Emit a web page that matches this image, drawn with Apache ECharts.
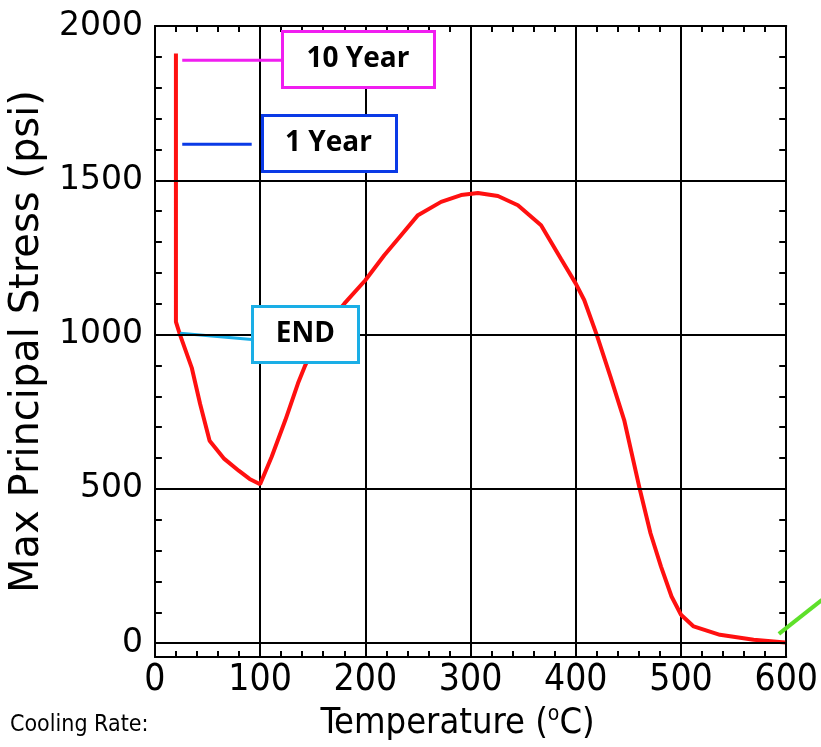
<!DOCTYPE html>
<html><head><meta charset="utf-8">
<script src="https://cdn.jsdelivr.net/npm/echarts@6/dist/echarts.min.js"></script>
<style>html,body{margin:0;padding:0;background:#fff}#c{width:821px;height:747px}</style>
</head><body><div id="c"></div>
<script>
// ---- data ----
const temps  = [20,20,24,35,43,52,66,80,90,100,111,124,136,143,152,165,180,200,218,234,250,272,291,307,326,345,367,386,400,408,420,433,446,461,471,481,491,500,512,537,569,599];
const stress = [1911,1041,998,893,775,656,597,558,532,515,604,723,842,901,965,1040,1100,1176,1257,1322,1387,1430,1452,1459,1449,1419,1354,1245,1165,1112,998,863,723,496,356,248,151,92,54,27,11,2];

const greenX = [593,634];
const greenY = [30,140];

const yLabelVals = [0,500,1000,1500,2000];
const yMinorVals = [0,100,200,300,400,500,600,700,800,900,1000,1100,1200,1300,1400,1500,1600,1700,1800,1900,2000];
const yGridVals = [0,500,1000,1500];

const boxLabels = ['10 Year','1 Year','END'];
const boxX = [193,165,143];
const boxY = [1893,1621,1002];
const boxColors = ['#f01ef0','#0a3ae6','#1aaee6'];
const boxW = [152,134,106];

const leadX = [[26,120],[26,92],[24,92]];
const leadY = [[1889,1889],[1617,1617],[1004,984]];

// ---- chart ----
const chart = echarts.init(document.getElementById('c'), null, {renderer:'canvas'});
const black = '#000';
const condensed = '"Liberation Sans Narrow","DejaVu Sans Condensed",sans-serif';

const series = [];
series.push({
  type:'line', data:[], silent:true, z:1,
  markLine:{silent:true, symbol:['none','none'], animation:false, label:{show:false},
    lineStyle:{color:black,width:2,type:'solid'},
    data: yGridVals.map(v=>({yAxis:v}))}
});
series.push({
  type:'line', data: temps.map((t,i)=>[t,stress[i]]), showSymbol:false, symbol:'none',
  lineStyle:{color:'#ff1010',width:4}, z:3, silent:true
});
leadX.forEach((xs,k)=>{
  series.push({type:'line', data: xs.map((x,i)=>[x,leadY[k][i]]), symbol:'none',
    lineStyle:{color:boxColors[k],width:3}, z:4, silent:true});
});

const axisLineS = {show:true, onZero:false, lineStyle:{color:black,width:2}};
const option = {
  animation:false,
  backgroundColor:'#fff',
  grid:{left:153, right:34, top:26, bottom:90, containLabel:false},
  xAxis:[{
    type:'value', min:0, max:600, interval:100, position:'bottom',
    axisLine:axisLineS,
    axisTick:{show:true, inside:true, length:6, lineStyle:{color:black,width:2}},
    minorTick:{show:true, splitNumber:5, length:6, lineStyle:{color:black,width:2}},
    axisLabel:{show:true, color:black, fontSize:37, fontFamily:condensed, margin:5},
    splitLine:{show:true, lineStyle:{color:black,width:2}},
    name:'{a|Temperature (}{s|o}{a|C)}', nameLocation:'middle', nameGap:20,
    nameTextStyle:{padding:[0,26,0,0], rich:{
      a:{fontSize:36, fontFamily:condensed, color:black, lineHeight:40},
      s:{fontSize:21, fontFamily:condensed, color:black, verticalAlign:'top', lineHeight:40}
    }}
  },{
    type:'value', min:0, max:600, interval:100, position:'top',
    axisLine:axisLineS,
    axisTick:{show:true, inside:true, length:6, lineStyle:{color:black,width:2}},
    minorTick:{show:true, splitNumber:5, length:6, lineStyle:{color:black,width:2}},
    axisLabel:{show:false}, splitLine:{show:false}
  }],
  yAxis:[{
    type:'value', min:-45, max:2000, position:'left',
    axisLine:axisLineS,
    axisTick:{show:true, inside:true, length:7, customValues:yMinorVals, lineStyle:{color:black,width:2}},
    axisLabel:{show:true, customValues:yLabelVals, formatter:v=>String(v), color:black, fontSize:33, fontFamily:'"DejaVu Sans",sans-serif', margin:12},
    splitLine:{show:false},
    name:'Max Principal Stress (psi)', nameLocation:'middle', nameRotate:90, nameGap:97,
    nameTextStyle:{fontSize:40, fontFamily:'"DejaVu Sans",sans-serif', color:black}
  },{
    type:'value', min:-45, max:2000, position:'right',
    axisLine:axisLineS,
    axisTick:{show:true, inside:true, length:7, customValues:yMinorVals, lineStyle:{color:black,width:2}},
    axisLabel:{show:false}, splitLine:{show:false}
  }],
  graphic:[{id:'cr', type:'text', left:10, top:714, style:{text:'Cooling Rate:', fontSize:23, fontFamily:condensed, fill:'#000'}}],
  series: series
};
chart.setOption(option);

// annotation boxes and the green stroke, placed through the chart's own scales
const px = (x,y) => chart.convertToPixel({gridIndex:0}, [x,y]);
const g0 = px(greenX[0], greenY[0]);
const g1 = px(greenX[1], greenY[1]);
const extra = [{id:'green', type:'line', z:100,
  shape:{x1:g0[0], y1:g0[1], x2:g1[0], y2:g1[1]},
  style:{stroke:'#5ee02a', lineWidth:4}}];
const boxH = 56;
boxLabels.forEach((l,i)=>{
  const c = px(boxX[i], boxY[i]);
  extra.push({id:'box'+i, type:'rect', z:110,
    shape:{x:Math.round(c[0]-boxW[i]/2)+0.5, y:Math.round(c[1]-boxH/2)+0.5, width:boxW[i], height:boxH},
    style:{fill:'#fff', stroke:boxColors[i], lineWidth:3}});
  extra.push({id:'txt'+i, type:'text', z:111,
    x:c[0], y:c[1],
    style:{text:l, x:0, y:0, align:'center', verticalAlign:'middle',
      font:'bold 28px "Open Sans", sans-serif', fill:'#000'}});
});
chart.setOption({graphic: extra});
</script></body></html>
